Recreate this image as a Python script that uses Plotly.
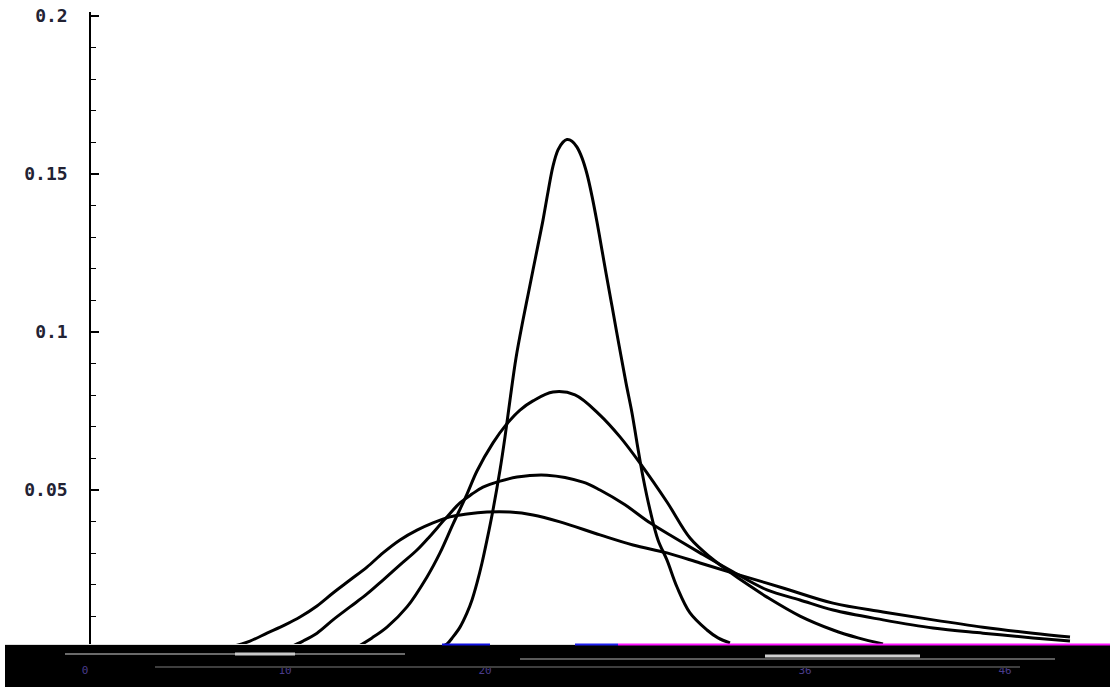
import plotly.graph_objects as go

# ---- data (x in axis units, y density values) ----
a_x = [17.75, 18.1, 18.4, 18.75, 19.1, 19.35, 19.6, 19.85, 20.1, 20.4, 20.75, 21.0, 21.25, 21.55, 21.9, 22.15, 22.4, 22.65, 22.9, 23.15, 23.4, 23.65, 23.9, 24.1, 24.35, 24.6, 24.85, 25.1, 25.35, 25.6, 25.85, 26.05, 26.35, 26.7, 27.05, 27.35, 27.6, 27.9, 28.25, 28.65, 29.1, 29.6, 30.25, 31.1, 31.65, 32.25]
a_y = [0.0003, 0.0013, 0.0035, 0.0066, 0.0111, 0.0152, 0.0206, 0.0269, 0.0342, 0.0437, 0.0563, 0.0668, 0.0785, 0.0918, 0.1038, 0.1117, 0.1196, 0.1275, 0.1354, 0.1443, 0.1525, 0.1576, 0.1601, 0.1609, 0.1604, 0.1585, 0.1551, 0.1500, 0.1430, 0.1348, 0.1259, 0.1187, 0.1082, 0.0959, 0.0839, 0.0744, 0.0649, 0.0541, 0.0437, 0.0342, 0.0278, 0.0193, 0.0111, 0.0057, 0.0032, 0.0016]

b_x = [13.6, 14.35, 15.1, 16.1, 17.1, 17.75, 18.4, 19.1, 19.6, 20.4, 21.05, 21.75, 22.4, 23.4, 24.5, 25.75, 26.75, 27.75, 29.1, 30.25, 31.25, 32.1, 33.25, 34.1, 35.75, 37.4, 38.65, 39.9]
b_y = [0.0003, 0.0032, 0.0066, 0.0130, 0.0225, 0.0301, 0.0392, 0.0487, 0.0560, 0.0649, 0.0706, 0.0753, 0.0782, 0.0810, 0.0801, 0.0737, 0.0668, 0.0585, 0.0462, 0.0348, 0.0288, 0.0247, 0.0196, 0.0161, 0.0101, 0.0057, 0.0032, 0.0013]

c_x = [10.25, 10.9, 11.6, 12.4, 13.25, 14.1, 14.9, 15.75, 16.6, 17.25, 18.0, 18.75, 19.35, 19.9, 20.75, 21.6, 23.1, 24.9, 25.75, 27.0, 28.25, 29.5, 30.75, 32.4, 34.1, 35.75, 37.4, 39.9, 42.4, 44.9, 47.4, 49.25]
c_y = [0.0003, 0.0022, 0.0047, 0.0089, 0.0130, 0.0171, 0.0215, 0.0263, 0.0310, 0.0354, 0.0408, 0.0459, 0.0487, 0.0509, 0.0528, 0.0541, 0.0547, 0.0525, 0.0500, 0.0453, 0.0396, 0.0348, 0.0301, 0.0241, 0.0184, 0.0152, 0.0120, 0.0089, 0.0063, 0.0047, 0.0032, 0.0022]

d_x = [7.25, 8.25, 9.1, 10.0, 10.75, 11.6, 12.4, 13.25, 14.1, 14.9, 15.75, 16.6, 17.4, 18.25, 19.1, 20.1, 21.25, 22.4, 23.75, 25.75, 27.4, 29.1, 30.75, 32.4, 34.9, 37.4, 39.9, 42.4, 44.9, 47.4, 49.25]
d_y = [0.0003, 0.0022, 0.0047, 0.0073, 0.0098, 0.0133, 0.0174, 0.0215, 0.0256, 0.0301, 0.0342, 0.0373, 0.0396, 0.0415, 0.0424, 0.0430, 0.0430, 0.0421, 0.0399, 0.0358, 0.0326, 0.0301, 0.0269, 0.0237, 0.0190, 0.0142, 0.0114, 0.0089, 0.0066, 0.0047, 0.0035]

y_tickvals = [0.05, 0.1, 0.15, 0.2]
y_ticktext = ["0.05", "0.1", "0.15", "0.2"]
x_tickvals = [0, 10, 20, 36, 46]
x_ticktext = ["0", "10", "20", "36", "46"]

W, H = 1110, 687
L, R, T, B = 5, 0, 12, 39
PW, PH = W - L - R, H - T - B


def px(xp):
    return (xp - L) / PW


def py(yp):
    return (H - B - yp) / PH


fig = go.Figure()
for xs, ys in [(d_x, d_y), (c_x, c_y), (b_x, b_y), (a_x, a_y)]:
    fig.add_trace(go.Scatter(x=xs, y=ys, mode="lines",
                             line=dict(color="black", width=3, shape="spline", smoothing=1.0),
                             showlegend=False, hoverinfo="skip"))

shapes = [
    # dark strip along the bottom
    dict(type="rect", xref="paper", yref="paper", x0=px(5), x1=px(1110), y0=py(687), y1=py(645),
         fillcolor="black", line=dict(width=0), layer="below"),
    dict(type="line", xref="paper", yref="paper", x0=px(5), x1=px(1110), y0=py(644.5), y1=py(644.5),
         line=dict(color="#dddddd", width=1)),
    dict(type="line", xref="paper", yref="paper", x0=px(442), x1=px(490), y0=py(644.5), y1=py(644.5),
         line=dict(color="#1010e0", width=2)),
    dict(type="line", xref="paper", yref="paper", x0=px(575), x1=px(618), y0=py(644.5), y1=py(644.5),
         line=dict(color="#2020f0", width=2)),
    dict(type="line", xref="paper", yref="paper", x0=px(618), x1=px(1110), y0=py(644.5), y1=py(644.5),
         line=dict(color="#ff10ff", width=2)),
    dict(type="line", xref="paper", yref="paper", x0=px(65), x1=px(405), y0=py(654), y1=py(654),
         line=dict(color="#6a6a6a", width=2)),
    dict(type="line", xref="paper", yref="paper", x0=px(235), x1=px(295), y0=py(654), y1=py(654),
         line=dict(color="#c8c8c8", width=3)),
    dict(type="line", xref="paper", yref="paper", x0=px(520), x1=px(1055), y0=py(659), y1=py(659),
         line=dict(color="#5a5a5a", width=2)),
    dict(type="line", xref="paper", yref="paper", x0=px(765), x1=px(920), y0=py(656), y1=py(656),
         line=dict(color="#d0d0d0", width=3)),
    dict(type="line", xref="paper", yref="paper", x0=px(155), x1=px(1020), y0=py(667), y1=py(667),
         line=dict(color="#3e3e3e", width=2)),
]

fig.update_layout(
    width=W, height=H,
    margin=dict(l=L, r=R, t=T, b=B, autoexpand=False),
    paper_bgcolor="white", plot_bgcolor="white",
    shapes=shapes,
    xaxis=dict(range=[(L - 85) / 20, (W - R - 85) / 20], showgrid=False, zeroline=False,
               automargin=False,
               showline=True, linecolor="black", linewidth=1,
               tickmode="array", tickvals=x_tickvals, ticktext=x_ticktext, ticks="",
               ticklabelstandoff=12,
               tickfont=dict(family="DejaVu Sans Mono", size=11, color="#4a3c8c")),
    yaxis=dict(range=[0, (H - B - T) / 3160], showgrid=False, zeroline=False,
               anchor="free", position=px(90), automargin=False,
               showline=True, linecolor="black", linewidth=1.5,
               tickmode="array", tickvals=y_tickvals, ticktext=y_ticktext,
               ticks="inside", ticklen=8, tickwidth=1.5, tickcolor="black",
               minor=dict(dtick=0.01, tick0=0, ticks="inside", ticklen=5, tickwidth=1.3, tickcolor="black", showgrid=False),
               ticklabelstandoff=18,
               tickfont=dict(family="DejaVu Sans Mono", size=18, weight="bold", color="#222233")),
)

fig.write_html("out.html", config={"displayModeBar": False},
               post_script="document.body.style.margin='0';document.body.style.overflow='hidden';")
